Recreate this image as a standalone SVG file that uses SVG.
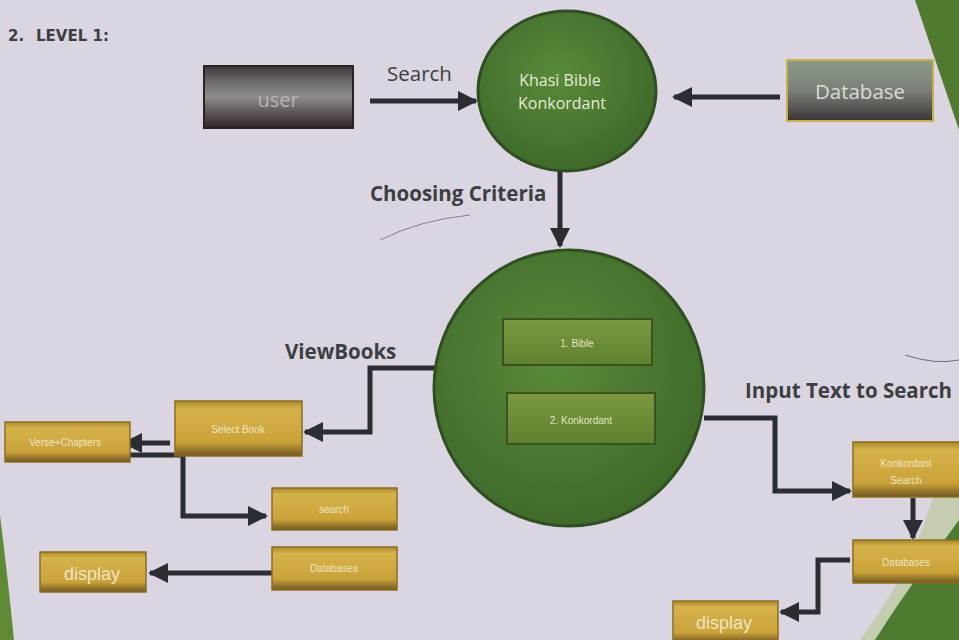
<svg xmlns="http://www.w3.org/2000/svg" width="959" height="640" viewBox="0 0 959 640">
<defs>
<linearGradient id="gGold" x1="0" y1="0" x2="0" y2="1">
<stop offset="0" stop-color="#a88a2c"/><stop offset="0.15" stop-color="#d6b24a"/><stop offset="0.75" stop-color="#caa23a"/><stop offset="1" stop-color="#6e5620"/>
</linearGradient>
<linearGradient id="gDark" x1="0" y1="0" x2="0" y2="1">
<stop offset="0" stop-color="#3a3438"/><stop offset="0.25" stop-color="#6e6a6c"/><stop offset="0.5" stop-color="#8d8e8a"/><stop offset="0.75" stop-color="#5e5457"/><stop offset="1" stop-color="#2e2629"/>
</linearGradient>
<linearGradient id="gDb" x1="0" y1="0" x2="0" y2="1">
<stop offset="0" stop-color="#8a9a8c"/><stop offset="0.5" stop-color="#7c8078"/><stop offset="1" stop-color="#3a3436"/>
</linearGradient>
<radialGradient id="gCircle" cx="0.45" cy="0.4" r="0.6">
<stop offset="0" stop-color="#5a8a3a"/><stop offset="1" stop-color="#3f6a2a"/>
</radialGradient>
<linearGradient id="gInner" x1="0" y1="0" x2="0" y2="1">
<stop offset="0" stop-color="#7a9a40"/><stop offset="1" stop-color="#5f8030"/>
</linearGradient>
<marker id="ah" viewBox="0 0 10 10" refX="9" refY="5" markerWidth="4" markerHeight="4" orient="auto" markerUnits="strokeWidth">
<path d="M0,0 L10,5 L0,10 Z" fill="#2a2e33"/>
</marker>
<style>
.lbl{font-family:"Open Sans","DejaVu Sans",sans-serif;font-weight:bold;fill:#3c3f42;font-size:20.5px;}
.gold rect.b{fill:url(#gGold);stroke:#8a6e22;stroke-width:1.5;}
.gold text{font-family:"Liberation Sans",sans-serif;fill:#efe6c0;text-anchor:middle;font-size:10px;}
.conn path{fill:none;stroke:#2a2e33;stroke-width:5;marker-end:url(#ah);}
.circ{fill:url(#gCircle);stroke:#2f4f22;stroke-width:3;}
.inner rect{fill:url(#gInner);stroke:#3a5220;stroke-width:2;}
.inner text{font-family:"Liberation Sans",sans-serif;fill:#e0e4c0;text-anchor:middle;font-size:10px;}
</style>
</defs>
<rect width="959" height="640" fill="#dad5e0"/>
<!-- background decorations -->
<path d="M915,0 L959,0 L959,130 Z" fill="#4f7a30"/>
<path d="M0,515 Q8,580 14,640 L0,640 Z" fill="#5e8a34"/>
<path d="M940,470 Q920,560 860,640 L959,640 L959,455 Z" fill="#c5cdb0"/>
<path d="M959,520 L930,560 Q900,600 875,640 L959,640 Z" fill="#4d7a2e"/>
<path d="M905,355 Q935,365 959,360" fill="none" stroke="#6a6a7a" stroke-width="1"/>
<path d="M380,240 Q420,220 470,215" fill="none" stroke="#8a7a90" stroke-width="1"/>

<text x="8" y="41" font-family="'DejaVu Sans',sans-serif" font-weight="bold" font-size="15" fill="#3c3f42">2.</text>
<text x="36" y="41" font-family="'DejaVu Sans',sans-serif" font-weight="bold" font-size="15" fill="#3c3f42">LEVEL 1:</text>

<g id="conn" class="conn">
<path d="M370,101 L476,101"/>
<path d="M780,97 L674,97"/>
<path d="M560,172 L560,246"/>
<path d="M436,368 L370,368 L370,432 L305,432"/>
<path d="M170,443 L124,443"/>
<path d="M100,455 L183,455 L183,516 L266,516"/>
<path d="M272,573 L150,573"/>
<path d="M704,418 L775,418 L775,491 L850,491"/>
<path d="M913,498 L913,538"/>
<path d="M850,560 L818,560 L818,612 L781,612"/>
</g>

<text x="387" y="81" font-family="'Open Sans','DejaVu Sans',sans-serif" font-size="20.5" fill="#3c3f42">Search</text>
<text x="370" y="201" class="lbl">Choosing Criteria</text>
<text x="285" y="359" class="lbl">ViewBooks</text>
<text x="745" y="398" class="lbl">Input Text to Search</text>

<g id="user">
<rect x="204" y="66" width="149" height="62" fill="url(#gDark)" stroke="#2a2226" stroke-width="2"/>
<text x="278" y="107" font-family="'Open Sans','DejaVu Sans',sans-serif" font-size="20" fill="#b8b4b2" text-anchor="middle">user</text>
</g>

<g id="khasi">
<ellipse cx="567" cy="91" rx="89" ry="80" class="circ"/>
<text x="560" y="86" font-family="'Open Sans','DejaVu Sans',sans-serif" font-size="16" fill="#e4ecd4" text-anchor="middle">Khasi Bible</text>
<text x="562" y="109" font-family="'Open Sans','DejaVu Sans',sans-serif" font-size="16" fill="#e4ecd4" text-anchor="middle">Konkordant</text>
</g>

<g id="database">
<rect x="787" y="60" width="146" height="61" fill="url(#gDb)" stroke="#c9b048" stroke-width="2"/>
<text x="860" y="99" font-family="'Open Sans','DejaVu Sans',sans-serif" font-size="20.5" fill="#d8dcd4" text-anchor="middle">Database</text>
</g>

<g id="criteria">
<ellipse cx="569" cy="388" rx="135" ry="138" class="circ"/>
<g class="inner">
<rect x="503" y="319" width="149" height="46"/>
<text x="577" y="347">1. Bible</text>
<rect x="507" y="393" width="148" height="51"/>
<text x="581" y="424">2.  Konkordant</text>
</g>
</g>

<g id="selectbook" class="gold">
<rect class="b" x="175" y="401" width="127" height="55"/>
<text x="238" y="433">Select Book</text>
</g>
<g id="versechapters" class="gold">
<rect class="b" x="5" y="422" width="125" height="40"/>
<text x="65" y="446">Verse+Chapters</text>
</g>
<g id="search" class="gold">
<rect class="b" x="272" y="488" width="125" height="42"/>
<text x="334" y="513">search</text>
</g>
<g id="databases1" class="gold">
<rect class="b" x="272" y="547" width="125" height="43"/>
<text x="334" y="572">Databases</text>
</g>
<g id="display1" class="gold">
<rect class="b" x="40" y="552" width="106" height="40"/>
<text x="92" y="580" style="font-size:18px">display</text>
</g>
<g id="konksearch" class="gold">
<rect class="b" x="853" y="442" width="110" height="55"/>
<text x="906" y="467">Konkordant</text>
<text x="906" y="484">Search</text>
</g>
<g id="databases2" class="gold">
<rect class="b" x="853" y="540" width="110" height="43"/>
<text x="906" y="566">Databases</text>
</g>
<g id="display2" class="gold">
<rect class="b" x="673" y="601" width="105" height="42"/>
<text x="724" y="629" style="font-size:18px">display</text>
</g>
</svg>
